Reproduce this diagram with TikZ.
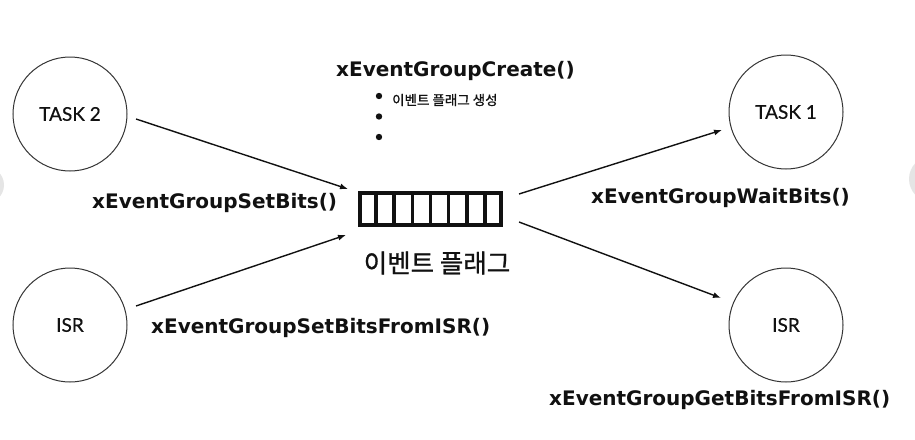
\documentclass[tikz,border=0pt]{standalone}
\usepackage{fontspec}
\usetikzlibrary{arrows.meta,calc}
\newfontfamily\vbfont{DejaVu Sans}
\newfontfamily\krfont{Noto Sans CJK KR}[FakeBold=0.9]
\newfontfamily\labfont{Lato}[FakeBold=0.5]
\definecolor{ink}{HTML}{111111}
\tikzset{
  taskcirc/.style={circle, draw=ink!85, line width=1pt, minimum size=114pt, inner sep=0pt,
    font=\labfont\fontsize{19}{22}\selectfont, text=ink},
  fnlabel/.style={anchor=base west, inner sep=0pt, text=ink,
    font=\vbfont\bfseries\fontsize{20}{24}\selectfont},
  conn/.style={line width=1.4pt, draw=ink, -{Latex[length=8pt,width=6pt]}},
  edgeblob/.style={fill=black!10, draw=none}
}
\begin{document}
\begin{tikzpicture}[x=1pt,y=-1pt]
\useasboundingbox (0,0) rectangle (915,439);
\fill[white] (0,0) rectangle (915,439);
% screen-edge blobs
\fill[edgeblob] (-14,185) circle (18);
\fill[edgeblob] (932,179) circle (23);
% circles
\node[taskcirc] (task2) at (70,114) {TASK 2};
\node[taskcirc] (isrl) at (70,325) {ISR};
\node[taskcirc] (task1) at (786,112) {TASK 1};
\node[taskcirc] (isrr) at (786,325) {ISR};
% event flag box
\node[draw=ink, line width=4pt, minimum width=141pt, minimum height=32pt, inner sep=0pt] (flag) at (430.5,209) {};
\foreach \k in {1,...,7}{
  \draw[ink, line width=3.6pt] ($(flag.north west)!\k/8!(flag.north east)$) -- ($(flag.south west)!\k/8!(flag.south east)$);
}
\node[text=ink, font=\krfont\fontsize{25.5}{30}\selectfont, inner sep=0pt] (flagname) at (437,263) {이벤트 플래그};
% create label and bullets
\node[fnlabel] (create) at (336,76) {xEventGroupCreate()};
\fill[ink] (379,96) circle (3.2) coordinate (b1);
\fill[ink] (379,116.5) circle (3.2) coordinate (b2);
\fill[ink] (379,137) circle (3.2) coordinate (b3);
\node[text=ink, font=\krfont\fontsize{13.5}{16}\selectfont, anchor=west, inner sep=0pt] (gen) at (392,100) {이벤트 플래그 생성};
% function labels
\node[fnlabel] (setbits) at (92,208) {xEventGroupSetBits()};
\node[fnlabel] (setisr) at (151,333) {xEventGroupSetBitsFromISR()};
\node[fnlabel] (wait) at (591,203) {xEventGroupWaitBits()};
\node[fnlabel] (getisr) at (549,405) {xEventGroupGetBitsFromISR()};
% arrow endpoints
\coordinate (a1s) at (136,119);
\coordinate (a1e) at (348,189);
\coordinate (a2s) at (136,306);
\coordinate (a2e) at (346,235);
\coordinate (a3s) at (519,194);
\coordinate (a3e) at (722,130);
\coordinate (a4s) at (519,222);
\coordinate (a4e) at (721,298);
\draw[conn] (a1s) -- (a1e);
\draw[conn] (a2s) -- (a2e);
\draw[conn] (a3s) -- (a3e);
\draw[conn] (a4s) -- (a4e);
\end{tikzpicture}
\end{document}
